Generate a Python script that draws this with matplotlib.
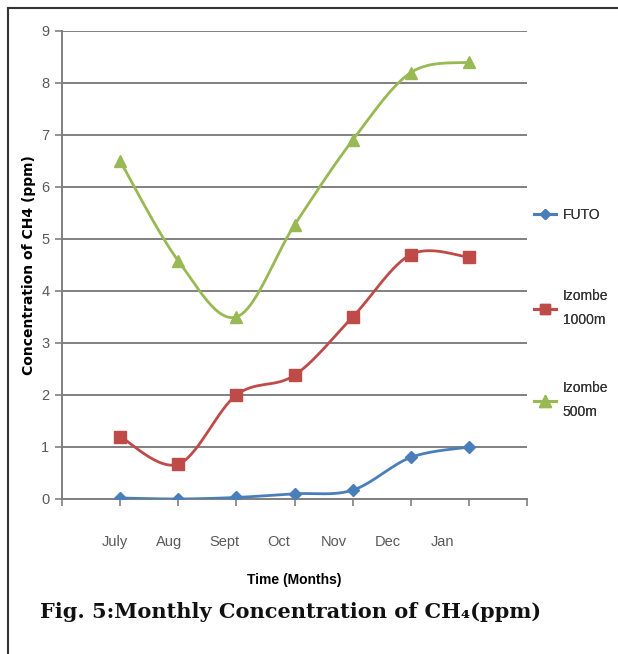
import numpy as np
import matplotlib.pyplot as plt
from matplotlib.lines import Line2D

# data
months = ['July', 'Aug', 'Sept', 'Oct', 'Nov', 'Dec', 'Jan']
futo = [0.02, 0.0, 0.03, 0.10, 0.17, 0.80, 1.00]
izombe_1000 = [1.20, 0.67, 2.00, 2.38, 3.50, 4.70, 4.65]
izombe_500 = [6.50, 4.58, 3.50, 5.27, 6.90, 8.20, 8.40]
y_ticks = list(range(0, 10))

SANS = ['Liberation Sans', 'DejaVu Sans']


def excel_smooth(x, y, n=30):
    """Bezier smoothing similar to Excel's smoothed line."""
    pts = np.column_stack([np.asarray(x, float), np.asarray(y, float)])
    out = []
    for i in range(len(pts) - 1):
        p0 = pts[i - 1] if i > 0 else pts[i]
        p1 = pts[i]
        p2 = pts[i + 1]
        p3 = pts[i + 2] if i + 2 < len(pts) else pts[i + 1]
        c1 = p1 + (p2 - p0) / 6.0
        c2 = p2 - (p3 - p1) / 6.0
        t = np.linspace(0, 1, n)[:, None]
        seg = (1 - t) ** 3 * p1 + 3 * (1 - t) ** 2 * t * c1 + 3 * (1 - t) * t ** 2 * c2 + t ** 3 * p2
        out.append(seg if i == 0 else seg[1:])
    out = np.vstack(out)
    return out[:, 0], out[:, 1]


fig = plt.figure(figsize=(6.18, 6.54), dpi=100)
ax = fig.add_axes([62 / 618, 1 - 499 / 654, (527 - 62) / 618, (499 - 31) / 654])

x = np.arange(1, len(months) + 1)
series = [
    ('FUTO', futo, '#4A7EBB', 'D', 6),
    ('Izombe\n1000m', izombe_1000, '#BE4B48', 's', 8),
    ('Izombe\n500m', izombe_500, '#98B954', '^', 9),
]

handles = []
for label, vals, color, marker, ms in series:
    sx, sy = excel_smooth(x, vals)
    ax.plot(sx, sy, color=color, lw=2.0, solid_capstyle='round', zorder=3)
    ax.plot(x, vals, ls='none', marker=marker, ms=ms, color=color, zorder=4)
    handles.append(Line2D([0], [0], color=color, lw=2.2, marker=marker, ms=ms - 1, label=label))

ax.set_xlim(0, 8)
ax.set_ylim(0, 9)
ax.set_yticks(y_ticks)
ax.set_yticklabels([str(v) for v in y_ticks], family=SANS, fontsize=10.5, color='#595959')
ax.yaxis.grid(True, color='#808080', lw=1.4)
ax.set_axisbelow(True)

# tick marks at the categories, labels drawn slightly left of them
ax.set_xticks(np.arange(0, 9), minor=True)
ax.tick_params(axis='x', which='minor', length=5, color='#808080', width=1.2)
label_pos = 0.91 + 0.94 * np.arange(len(months))
ax.set_xticks(label_pos)
ax.set_xticklabels(months, family=SANS, fontsize=10.5, color='#595959')
ax.tick_params(axis='x', which='major', length=0, pad=26)
ax.tick_params(axis='y', length=5, color='#808080', width=1.2, pad=4)

for s in ['top', 'right']:
    ax.spines[s].set_visible(False)
for s in ['left', 'bottom']:
    ax.spines[s].set_color('#808080')
    ax.spines[s].set_linewidth(1.4)

ax.set_ylabel('Concentration of CH4 (ppm)', family='DejaVu Sans', fontsize=10, fontweight='bold', labelpad=4)
ax.set_xlabel('Time (Months)', family=SANS, fontsize=10, fontweight='bold', labelpad=17)

# legend, one entry per block so the vertical gaps match the original
legend_y = [215, 308, 400]
for h, ly in zip(handles, legend_y):
    leg = fig.legend(handles=[h], loc='center left', bbox_to_anchor=(521 / 618, 1 - ly / 654),
                     frameon=False, handlelength=1.6, handletextpad=0.5,
                     prop={'family': SANS, 'size': 10})
    for t in leg.get_texts():
        t.set_linespacing(1.9)
        t.set_color('#333333')
    fig.add_artist(leg)

fig.text(40 / 618, 1 - 612 / 654, 'Fig. 5:Monthly Concentration of CH\u2084(ppm)',
         family='DejaVu Serif', fontweight='bold', fontsize=15, va='center', color='#111111')

# outer frame of the clipped figure
fig.add_artist(Line2D([8 / 618, 8 / 618], [0, 1 - 8 / 654], transform=fig.transFigure, color='#333333', lw=1.5))
fig.add_artist(Line2D([8 / 618, 1], [1 - 8 / 654, 1 - 8 / 654], transform=fig.transFigure, color='#333333', lw=1.5))

plt.savefig('out.png', dpi=100)
